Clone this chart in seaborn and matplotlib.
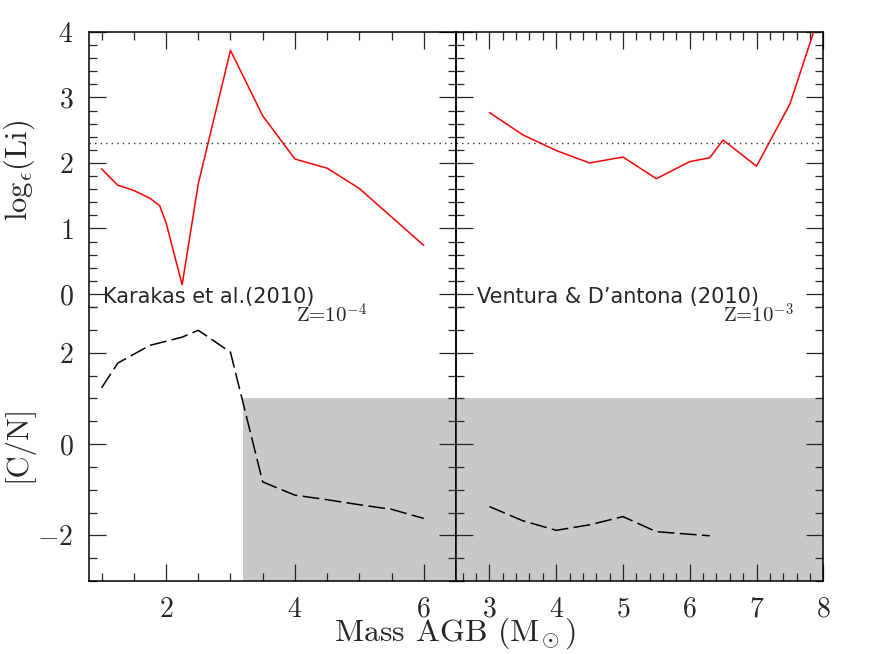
import matplotlib
matplotlib.use("Agg")
import matplotlib.pyplot as plt
from matplotlib.ticker import MultipleLocator
import seaborn as sns
import numpy as np

# ---------------- data ----------------
# Karakas et al. (2010), Z=1e-4
kar_mass_li = [1.0, 1.25, 1.5, 1.75, 1.9, 2.0, 2.25, 2.5, 3.0, 3.5, 4.0, 4.5, 5.0, 6.0]
kar_li = [1.91, 1.66, 1.58, 1.46, 1.35, 1.09, 0.14, 1.68, 3.72, 2.72, 2.06, 1.92, 1.61, 0.74]
kar_mass_cn = [1.0, 1.25, 1.75, 2.25, 2.5, 3.0, 3.5, 4.0, 4.5, 5.0, 5.5, 6.0]
kar_cn = [1.23, 1.77, 2.16, 2.34, 2.49, 2.01, -0.83, -1.12, -1.22, -1.33, -1.43, -1.63]

# Ventura & D'Antona (2010), Z=1e-3
ven_mass_li = [3.0, 3.5, 4.0, 4.5, 5.0, 5.5, 6.0, 6.3, 6.5, 7.0, 7.5, 8.0]
ven_li = [2.77, 2.43, 2.19, 2.00, 2.09, 1.76, 2.02, 2.08, 2.35, 1.95, 2.90, 4.45]
ven_mass_cn = [3.0, 3.5, 4.0, 4.5, 5.0, 5.5, 6.3]
ven_cn = [-1.37, -1.68, -1.89, -1.77, -1.59, -1.92, -2.01]

li_reference = 2.3          # dotted horizontal line
cn_limit = 1.0              # upper edge of grey band
kar_grey_start = 3.2        # grey band start (left panel)

left_xlim = (0.8, 6.5)
right_xlim = (2.5, 8.0)
li_ylim = (-0.2, 4.0)
cn_ylim = (-3.0, 3.0)

# ---------------- style ----------------
sns.set_style("ticks")
plt.rcParams["font.family"] = ["cmr10", "DejaVu Serif"]
plt.rcParams["mathtext.fontset"] = "cm"
plt.rcParams["axes.formatter.use_mathtext"] = True
plt.rcParams["axes.unicode_minus"] = True
plt.rcParams["axes.edgecolor"] = "black"
plt.rcParams["axes.linewidth"] = 1.1

fig = plt.figure(figsize=(8.75, 6.54), dpi=100)
W, H = 875, 654
def box(x0, y0, x1, y1):
    return [x0 / W, 1 - y1 / H, (x1 - x0) / W, (y1 - y0) / H]

ax_tl = fig.add_axes(box(88.7, 32, 456, 307))
ax_tr = fig.add_axes(box(456, 32, 823.3, 307))
ax_bl = fig.add_axes(box(88.7, 307, 456, 581))
ax_br = fig.add_axes(box(456, 307, 823.3, 581))

grey = "#c8c8c8"

# top panels: Li
sns.lineplot(x=kar_mass_li, y=kar_li, ax=ax_tl, color="red", lw=1.1,
             estimator=None, sort=False)
sns.lineplot(x=ven_mass_li, y=ven_li, ax=ax_tr, color="red", lw=1.1,
             estimator=None, sort=False)
for ax in (ax_tl, ax_tr):
    ax.axhline(li_reference, color="#333333", lw=1.0, ls=(0, (1, 3)))

# bottom panels: C/N
ax_bl.fill_between([kar_grey_start, left_xlim[1]], cn_ylim[0], cn_limit,
                   color=grey, lw=0, zorder=0.5)
ax_br.axhspan(cn_ylim[0], cn_limit, color=grey, lw=0, zorder=0.5)
sns.lineplot(x=kar_mass_cn, y=kar_cn, ax=ax_bl, color="black", lw=1.1,
             linestyle=(0, (11, 3.5)), estimator=None, sort=False)
sns.lineplot(x=ven_mass_cn, y=ven_cn, ax=ax_br, color="black", lw=1.1,
             linestyle=(0, (11, 3.5)), estimator=None, sort=False)

for ax in (ax_tl, ax_bl):
    ax.set_xlim(*left_xlim)
    ax.xaxis.set_major_locator(MultipleLocator(2))
    ax.xaxis.set_minor_locator(MultipleLocator(0.5))
for ax in (ax_tr, ax_br):
    ax.set_xlim(*right_xlim)
    ax.xaxis.set_major_locator(MultipleLocator(1))
    ax.xaxis.set_minor_locator(MultipleLocator(0.2))
for ax in (ax_tl, ax_tr):
    ax.set_ylim(*li_ylim)
    ax.yaxis.set_major_locator(MultipleLocator(1))
    ax.yaxis.set_minor_locator(MultipleLocator(0.2))
    ax.spines["bottom"].set_visible(False)
    ax.tick_params(which="both", direction="in", top=True, bottom=False,
                   left=True, right=True, labelbottom=False)
for ax in (ax_bl, ax_br):
    ax.set_ylim(*cn_ylim)
    ax.yaxis.set_major_locator(MultipleLocator(2))
    ax.yaxis.set_minor_locator(MultipleLocator(0.5))
    ax.spines["top"].set_visible(False)
    ax.tick_params(which="both", direction="in", top=False, bottom=True,
                   left=True, right=True, labelbottom=True)
for ax in (ax_tl, ax_tr, ax_bl, ax_br):
    ax.set_xlabel("")
    ax.set_ylabel("")
    ax.set_facecolor("none")
    ax.tick_params(which="major", length=12, width=0.9, labelsize=20, pad=11)
    ax.tick_params(which="minor", length=6, width=0.9)
    for s in ax.spines.values():
        s.set_linewidth(1.1)
for ax in (ax_tr, ax_br):
    ax.tick_params(labelleft=False)

# annotations
txt_kw = dict(family="DejaVu Sans", fontsize=15, clip_on=False)
ax_tl.text(1.02, -0.14, "Karakas et al.(2010)", ha="left", va="baseline", **txt_kw)
ax_tr.text(2.82, -0.14, "Ventura & D\u2019antona (2010)", ha="left", va="baseline", **txt_kw)
ax_tl.text(4.01, -0.44, r"Z=10$^{-4}$", ha="left", va="baseline", fontsize=15, clip_on=False)
ax_tr.text(6.5, -0.44, r"Z=10$^{-3}$", ha="left", va="baseline", fontsize=15, clip_on=False)

fig.text(455 / W, 1 - 641 / H, r"Mass AGB (M$_{\!\odot}$)", ha="center", va="baseline", fontsize=23)
fig.text(19 / W, 1 - 170 / H, r"log$_\epsilon$(Li)", ha="center", va="center",
         rotation=90, fontsize=22)
fig.text(18 / W, 1 - 443 / H, r"[C/N]", ha="center", va="center",
         rotation=90, fontsize=22)

fig.savefig("out.png", dpi=100)
